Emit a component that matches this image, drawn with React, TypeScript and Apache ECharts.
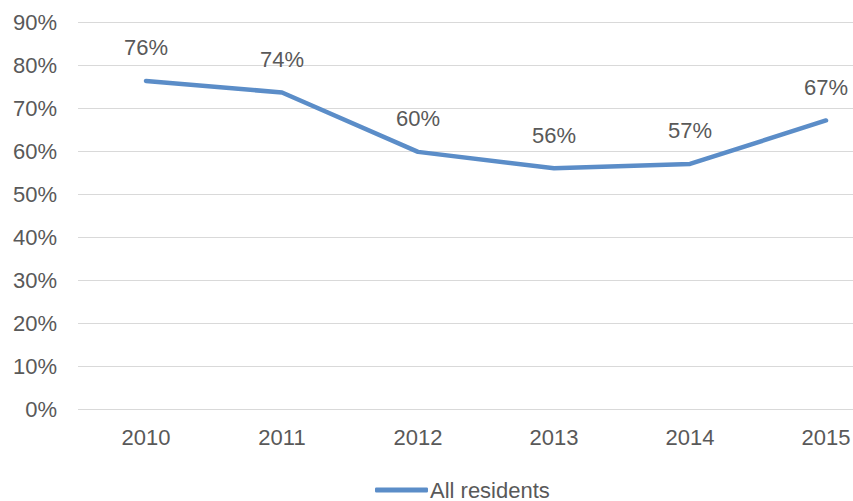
import React, { useEffect, useRef } from "react";
import * as echarts from "echarts";

const years = ["2010", "2011", "2012", "2013", "2014", "2015"];
const allResidents = [76.3, 73.6, 59.8, 56.0, 57.0, 67.1];
const seriesName = "All residents";

export default function App() {
  const ref = useRef<HTMLDivElement>(null);
  useEffect(() => {
    if (!ref.current) return;
    const chart = echarts.init(ref.current, null, { renderer: "svg" });
    const font = "'Liberation Sans', Arial, Helvetica, sans-serif";
    const fs = 22;
    chart.setOption({
      animation: false,
      textStyle: { fontFamily: font },
      grid: { left: 78, top: 22, right: 0, bottom: 92, containLabel: false },
      legend: {
        bottom: 0,
        left: 375,
        padding: 0,
        data: [{ name: seriesName, icon: "roundRect" }],
        itemWidth: 53,
        itemHeight: 5,
        itemGap: 2,
        textStyle: { fontSize: fs, color: "#595959", fontFamily: font, padding: [0, 0, 0, -3] },
      },
      xAxis: {
        type: "category",
        data: years,
        axisLine: { show: false },
        axisTick: { show: false },
        axisLabel: { color: "#595959", fontSize: fs, margin: 17, fontFamily: font },
      },
      yAxis: {
        type: "value",
        min: 0,
        max: 90,
        interval: 10,
        axisLine: { show: false },
        axisTick: { show: false },
        splitLine: { lineStyle: { color: "#d9d9d9", width: 1 } },
        axisLabel: {
          color: "#595959",
          fontSize: fs,
          margin: 21,
          fontFamily: font,
          formatter: (v: number) => v + "%",
        },
      },
      series: [
        {
          name: seriesName,
          type: "line",
          data: allResidents,
          symbol: "circle",
          symbolSize: 0.1,
          showSymbol: true,
          lineStyle: { color: "#5B8DC8", width: 4.5, cap: "round", join: "round" },
          itemStyle: { color: "#5B8DC8" },
          label: {
            show: true,
            position: "top",
            distance: 22,
            color: "#595959",
            fontSize: fs,
            fontFamily: font,
            formatter: (p: any) => Math.round(p.value) + "%",
          },
        },
      ],
    });
    return () => chart.dispose();
  }, []);
  return (
    <div style={{ width: 853, height: 501, position: "absolute", left: 0, top: 0, overflow: "hidden" }}>
      <div ref={ref} style={{ width: 894, height: 501 }} />
    </div>
  );
}
